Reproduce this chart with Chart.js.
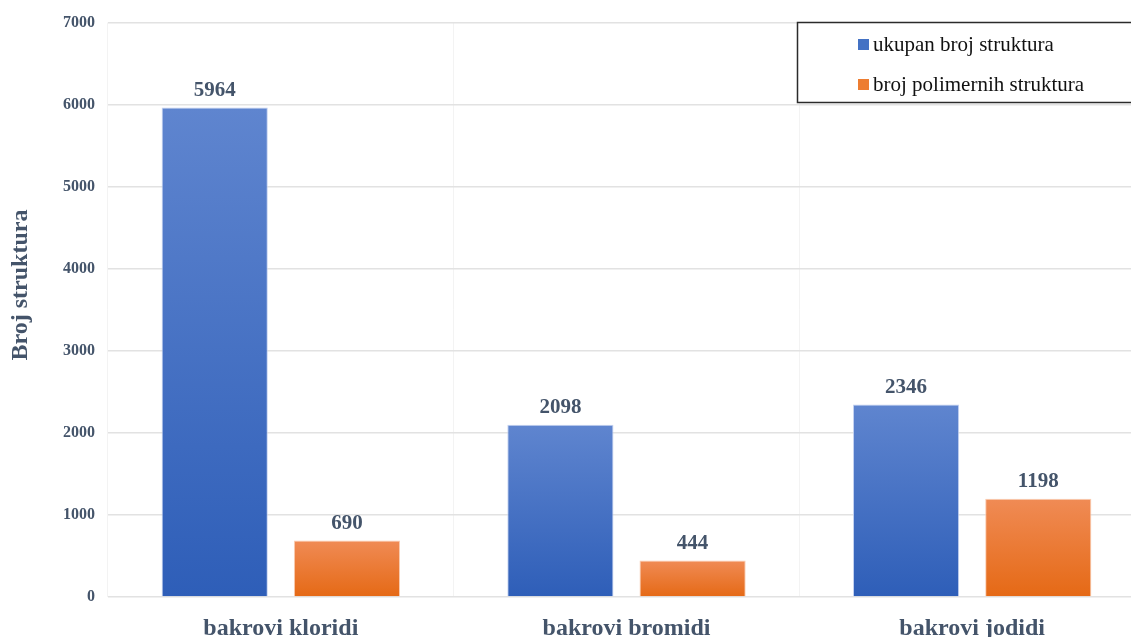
<!DOCTYPE html>
<html>
<head>
<meta charset="utf-8">
<script src="https://cdn.jsdelivr.net/npm/chart.js@4.4.1/dist/chart.umd.min.js"></script>
<style>
  html, body { margin: 0; padding: 0; background: #fff; overflow: hidden; }
  #wrap { width: 1131px; height: 637px; overflow: hidden; position: relative; }
  #box { width: 1150px; height: 637px; position: absolute; left: 0; top: 0; }
</style>
</head>
<body>
<div id="wrap"><div id="box"><canvas id="c"></canvas></div></div>
<script>
const categories = ['bakrovi kloridi', 'bakrovi bromidi', 'bakrovi jodidi'];
const seriesNames = ['ukupan broj struktura', 'broj polimernih struktura'];
const totalStructures = [5964, 2098, 2346];
const polymerStructures = [690, 444, 1198];
const yTicks = [0, 1000, 2000, 3000, 4000, 5000, 6000, 7000];
const yTitle = 'Broj struktura';

const serif = '"Liberation Serif", "Times New Roman", serif';
const labelColor = '#44546a';

// vertical gradient per bar, lighter at the top
function barGradient(top, bottom) {
  return function (context) {
    const chart = context.chart;
    const area = chart.chartArea;
    if (!area || context.type !== 'data') return bottom;
    const y = chart.scales.y;
    const yTop = y.getPixelForValue(context.raw);
    const yBot = y.getPixelForValue(0);
    const g = chart.ctx.createLinearGradient(0, yTop, 0, yBot);
    g.addColorStop(0, top);
    g.addColorStop(1, bottom);
    return g;
  };
}

const valueLabels = {
  id: 'valueLabels',
  afterDatasetsDraw(chart) {
    const ctx = chart.ctx;
    ctx.save();
    ctx.font = 'bold 21px ' + serif;
    ctx.fillStyle = labelColor;
    ctx.textAlign = 'center';
    ctx.textBaseline = 'middle';
    chart.data.datasets.forEach((ds, i) => {
      chart.getDatasetMeta(i).data.forEach((bar, j) => {
        ctx.fillText(String(ds.data[j]), bar.x, bar.y - 17);
      });
    });
    ctx.restore();
  }
};

const sideTitle = {
  id: 'sideTitle',
  afterDraw(chart) {
    const ctx = chart.ctx;
    ctx.save();
    ctx.translate(21, 285);
    ctx.rotate(-Math.PI / 2);
    ctx.font = 'bold 24px ' + serif;
    ctx.fillStyle = labelColor;
    ctx.textAlign = 'center';
    ctx.textBaseline = 'middle';
    ctx.fillText(yTitle, 0, 0);
    ctx.restore();
  }
};

const boxLegend = {
  id: 'boxLegend',
  afterDraw(chart) {
    const ctx = chart.ctx;
    ctx.save();
    ctx.fillStyle = '#ffffff';
    ctx.fillRect(797, 22, 360, 80);
    ctx.strokeStyle = '#2b2b2b';
    ctx.lineWidth = 1.5;
    ctx.strokeRect(797.5, 22.5, 360, 80);
    const swatches = ['#4472c4', '#ed7d31'];
    const rows = [44, 84];
    ctx.font = '21px ' + serif;
    ctx.textBaseline = 'middle';
    ctx.textAlign = 'left';
    chart.data.datasets.forEach((ds, i) => {
      ctx.fillStyle = swatches[i];
      ctx.fillRect(858, rows[i] - 5, 11, 11);
      ctx.fillStyle = '#111111';
      ctx.fillText(ds.label, 873, rows[i] + 1);
    });
    ctx.restore();
  }
};

new Chart(document.getElementById('c'), {
  type: 'bar',
  data: {
    labels: categories,
    datasets: [
      {
        label: seriesNames[0],
        data: totalStructures,
        backgroundColor: barGradient('#5f85cf', '#2e5eb8'),
        borderColor: 'rgba(190,205,240,0.9)',
        borderWidth: 1,
        barPercentage: 0.803,
        categoryPercentage: 0.765
      },
      {
        label: seriesNames[1],
        data: polymerStructures,
        backgroundColor: barGradient('#f08b55', '#e56915'),
        borderColor: 'rgba(250,200,170,0.9)',
        borderWidth: 1,
        barPercentage: 0.803,
        categoryPercentage: 0.765
      }
    ]
  },
  options: {
    responsive: true,
    maintainAspectRatio: false,
    animation: false,
    layout: { padding: { top: 21, right: 5, left: 0, bottom: 0 } },
    plugins: {
      legend: { display: false },
      tooltip: { enabled: false }
    },
    scales: {
      x: {
        grid: { offset: true, color: '#f3f3f3', lineWidth: 1, drawTicks: false },
        border: { display: false },
        ticks: {
          padding: 17,
          color: labelColor,
          font: { family: serif, size: 24, weight: 'bold' }
        },
        afterFit(scale) { scale.height = 40; }
      },
      y: {
        min: 0,
        max: 7000,
        afterBuildTicks(scale) { scale.ticks = yTicks.map(v => ({ value: v })); },
        grid: { color: '#e2e2e2', lineWidth: 1.5, drawTicks: false },
        border: { display: false },
        ticks: {
          padding: 13,
          color: labelColor,
          font: { family: serif, size: 16, weight: 'bold' },
          callback: (v) => String(v)
        },
        afterFit(scale) { scale.width = 108; }
      }
    }
  },
  plugins: [valueLabels, sideTitle, boxLegend]
});
</script>
</body>
</html>
